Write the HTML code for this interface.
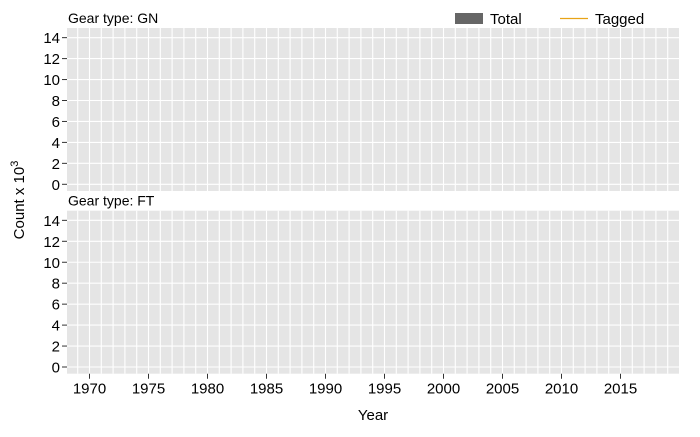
<!DOCTYPE html>
<html><head><meta charset="utf-8"><style>
body{margin:0;background:#fff}
svg text{font-family:"Liberation Sans",Arial,sans-serif;}
</style></head><body>
<svg width="700" height="432" viewBox="0 0 700 432">
<g id="panels"></g>
<g>
 <rect x="455" y="13" width="28" height="11" fill="#666"/>
 <text x="490" y="24" font-size="15" fill="#000">Total</text>
 <line x1="560" y1="18.5" x2="588" y2="18.5" stroke="#e8a317" stroke-width="1.2"/>
 <text x="595" y="24" font-size="15" fill="#000">Tagged</text>
</g>
<text x="373" y="420" font-size="15" text-anchor="middle">Year</text>
<text transform="translate(24,200) rotate(-90)" font-size="15" text-anchor="middle">Count x 10<tspan dy="-6" font-size="11">3</tspan></text>
</svg>
<script>
const panelTitles=["Gear type: GN","Gear type: FT"];
const yTicks=[0,2,4,6,8,10,12,14];
const xTicks=[1970,1975,1980,1985,1990,1995,2000,2005,2010,2015];
const totalGN=[];const taggedGN=[];const totalFT=[];const taggedFT=[];
const NS="http://www.w3.org/2000/svg";
const g=document.getElementById('panels');
const x0=67,x1=679;
const xs=y=>89.5+(y-1970)*11.8;
const tops=[28,210.7];
function mk(t,a){const e=document.createElementNS(NS,t);for(const k in a)e.setAttribute(k,a[k]);g.appendChild(e);return e;}
tops.forEach((top,p)=>{
 const bot=top+163;
 const ys=v=>top+156.3-v*10.475;
 const bg=mk('rect',{x:x0,y:top,width:x1-x0,height:bot-top,fill:'#e5e5e5'});
 
 
 for(let yr=1969;yr<=2019;yr++){const l=mk('line',{x1:xs(yr),x2:xs(yr),y1:top,y2:bot,stroke:'#fff','stroke-width':1.1});
  }
 yTicks.forEach(v=>{const l=mk('line',{x1:x0,x2:x1,y1:ys(v),y2:ys(v),stroke:'#fff','stroke-width':1.1});
  
  const t=mk('line',{x1:x0-5,x2:x0,y1:ys(v),y2:ys(v),stroke:'#333','stroke-width':1});
  
  const tx=mk('text',{x:x0-7,y:ys(v)+5.5,'font-size':15,'text-anchor':'end',fill:'#000'});tx.textContent=v;
  });
 const st=mk('text',{x:68,y:top-5,'font-size':14,fill:'#000'});st.textContent=panelTitles[p];
 
});
xTicks.forEach(yr=>{const b=373.7;
 const t=mk('line',{x1:xs(yr),x2:xs(yr),y1:b,y2:b+5,stroke:'#333','stroke-width':1});
 
 const tx=mk('text',{x:xs(yr),y:b+20,'font-size':15,'text-anchor':'middle',fill:'#000'});tx.textContent=yr;
 });
</script>
</body></html>
